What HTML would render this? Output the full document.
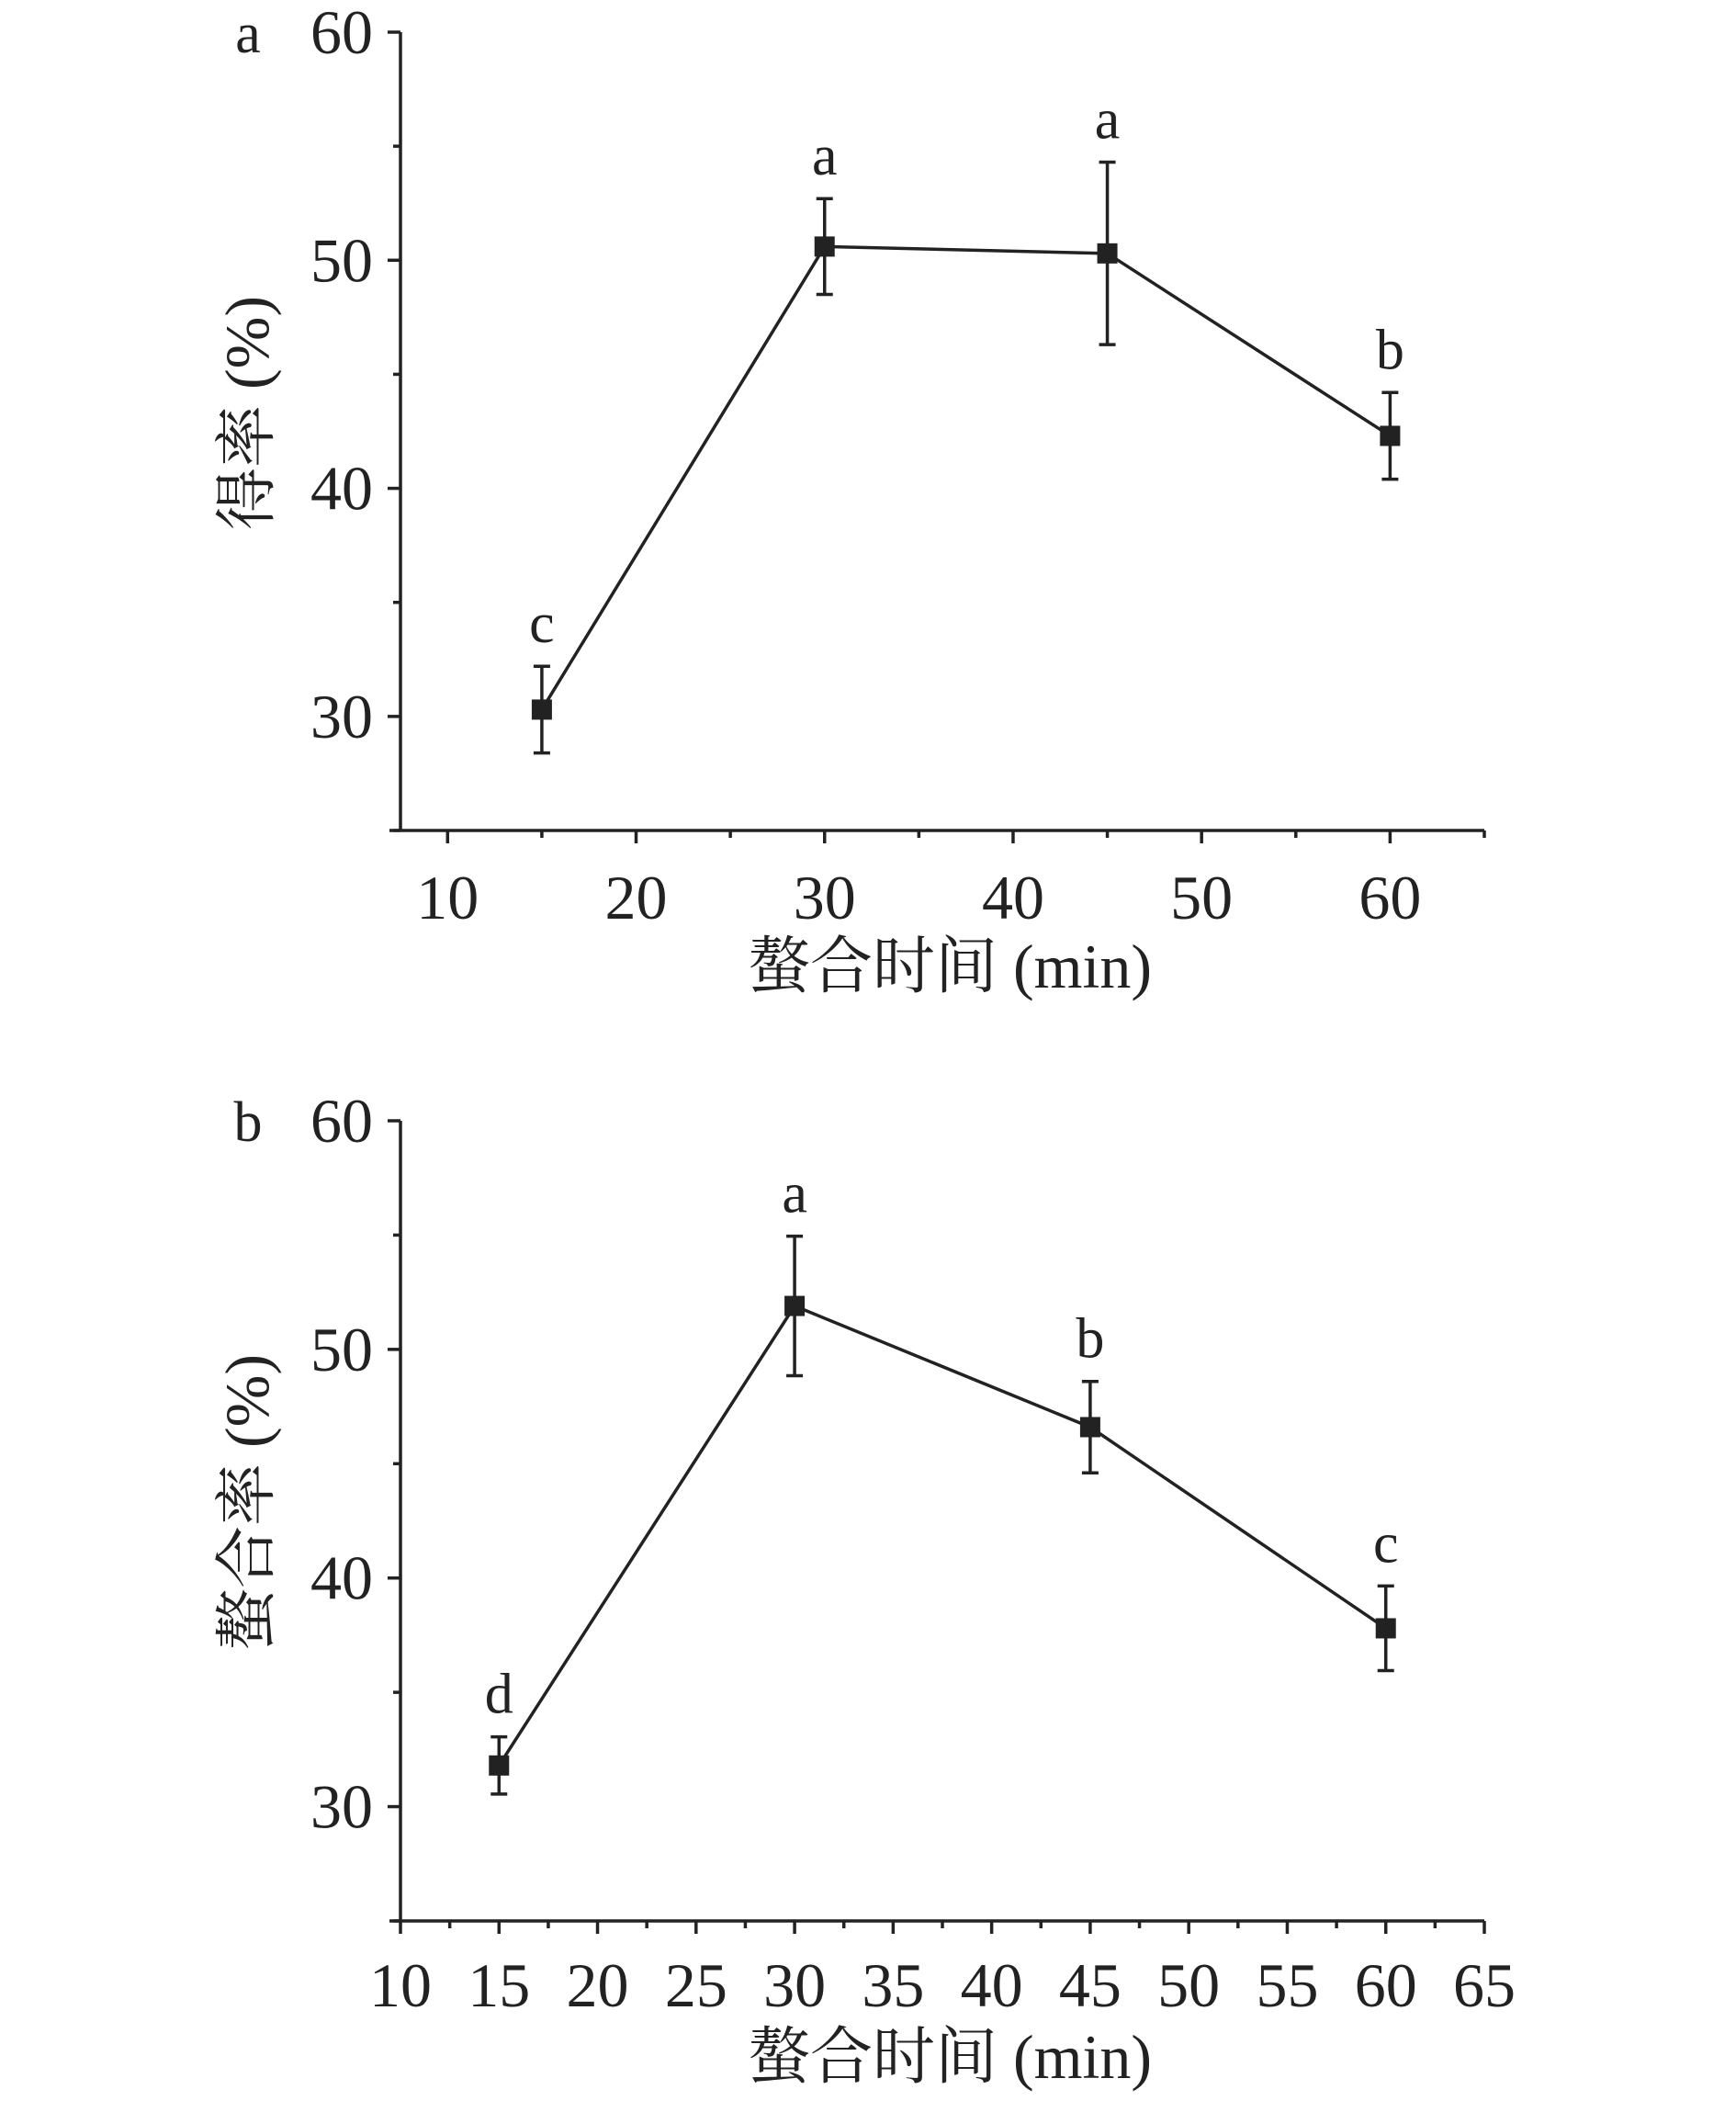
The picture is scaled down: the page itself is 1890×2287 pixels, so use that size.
<!DOCTYPE html>
<html><head><meta charset="utf-8"><style>
html,body{margin:0;padding:0;background:#fff;}
svg{display:block;font-family:"Liberation Serif","Noto Serif CJK SC",serif;}
</style></head><body>
<svg id="fig" width="1890" height="2287" viewBox="0 0 1890 2287" xmlns="http://www.w3.org/2000/svg"></svg>
<script>
// Panel a data
const catsA = [15, 30, 45, 60];
const valsA = [30.3, 50.6, 50.3, 42.3];
const errA = [1.9, 2.1, 4.0, 1.9];
const letA = ['c', 'a', 'a', 'b'];
const xTicksA = [10, 20, 30, 40, 50, 60];
// Panel b data
const catsB = [15, 30, 45, 60];
const valsB = [31.8, 51.9, 46.6, 37.8];
const errB = [1.25, 3.05, 2.0, 1.85];
const letB = ['d', 'a', 'b', 'c'];
const xTicksB = [10, 15, 20, 25, 30, 35, 40, 45, 50, 55, 60, 65];
const yTicks = [30, 40, 50, 60];

const NS = 'http://www.w3.org/2000/svg';
const svg = document.getElementById('fig');
function mk(tag, attrs, parent) {
  const e = document.createElementNS(NS, tag);
  for (const k in attrs) e.setAttribute(k, attrs[k]);
  (parent || svg).appendChild(e);
  return e;
}

function panel(cfg) {
  const g = mk('g', {});
  
  
  const L = 436, R = 1616, top = cfg.top, bot = cfg.bot;
  const ymin = 25, ymax = 60;
  const sx = v => L + (v - cfg.xmin) / (cfg.xmax - cfg.xmin) * (R - L);
  const sy = v => bot - (v - ymin) / (ymax - ymin) * (bot - top);
  const st = {stroke: '#222', 'stroke-width': 3.5, fill: 'none'};
  let a = mk('line', Object.assign({x1: L, y1: top, x2: L, y2: bot}, st), g);
   
  a = mk('line', Object.assign({x1: L - 12, y1: bot, x2: R, y2: bot}, st), g);
   
  for (let v = 25; v <= 60; v += 5) {
    const major = v % 10 === 0;
    const t = mk('line', Object.assign({x1: L - (major ? 14 : 8), y1: sy(v), x2: L, y2: sy(v)}, st), g);
    
    
  }
  yTicks.forEach(v => {
    const t = mk('text', {x: L - 30, y: sy(v) + 23, 'text-anchor': 'end', 'font-size': 68, fill: '#222'}, g);
    t.textContent = v;
    
    
  });
  const step = cfg.xTicks[1] - cfg.xTicks[0];
  for (let v = cfg.xTicks[0]; v <= cfg.xmax + 0.01; v += step / 2) {
    const major = cfg.xTicks.includes(v);
    const t = mk('line', Object.assign({x1: sx(v), y1: bot, x2: sx(v), y2: bot + (major ? 14 : 8)}, st), g);
    
    
  }
  cfg.xTicks.forEach(v => {
    const t = mk('text', {x: sx(v), y: cfg.xlabY, 'text-anchor': 'middle', 'font-size': 68, fill: '#222'}, g);
    t.textContent = v;
    
    
  });
  let t = mk('text', {x: (L + R) / 2 + 8, y: cfg.xtitleY, 'text-anchor': 'middle', 'font-size': 68, fill: '#222'}, g);
  t.textContent = '螯合时间 (min)';
   
  const cy = (sy(60) + bot) / 2 - 20;
  t = mk('text', {x: 0, y: 0, transform: `translate(292,${cy}) rotate(-90)`, 'text-anchor': 'middle', 'font-size': 68, fill: '#222'}, g);
  t.textContent = cfg.ytitle;
   
  t = mk('text', {x: 270, y: sy(60) + 22, 'text-anchor': 'middle', 'font-size': 62, fill: '#222'}, g);
  t.textContent = cfg.label;
   
  const pts = cfg.cats.map((c, i) => sx(c) + ',' + sy(cfg.vals[i])).join(' ');
  const pl = mk('polyline', Object.assign({points: pts}, st), g);
   
  cfg.cats.forEach((c, i) => {
    const x = sx(c), y = sy(cfg.vals[i]), e = cfg.err[i];
    const eg = mk('g', {}, g);
    
    
    mk('line', Object.assign({x1: x, y1: sy(cfg.vals[i] + e), x2: x, y2: sy(cfg.vals[i] - e)}, st), eg);
    mk('line', Object.assign({x1: x - 9, y1: sy(cfg.vals[i] + e), x2: x + 9, y2: sy(cfg.vals[i] + e)}, st), eg);
    mk('line', Object.assign({x1: x - 9, y1: sy(cfg.vals[i] - e), x2: x + 9, y2: sy(cfg.vals[i] - e)}, st), eg);
    const m = mk('rect', {x: x - 11, y: y - 11, width: 22, height: 22, fill: '#222'}, g);
    
    
    const l = mk('text', {x: x, y: sy(cfg.vals[i] + e) - 26, 'text-anchor': 'middle', 'font-size': 62, fill: '#222'}, g);
    l.textContent = cfg.lets[i];
    
    
  });
}

panel({name: 'chart-a', label: 'a', top: 35, bot: 904, xmin: 7.5, xmax: 65, xTicks: xTicksA,
  cats: catsA, vals: valsA, err: errA, lets: letA, ytitle: '得率 (%)', xlabY: 1000, xtitleY: 1075});
panel({name: 'chart-b', label: 'b', top: 1220, bot: 2091, xmin: 10, xmax: 65, xTicks: xTicksB,
  cats: catsB, vals: valsB, err: errB, lets: letB, ytitle: '螯合率 (%)', xlabY: 2184, xtitleY: 2262});
</script>
</body></html>
